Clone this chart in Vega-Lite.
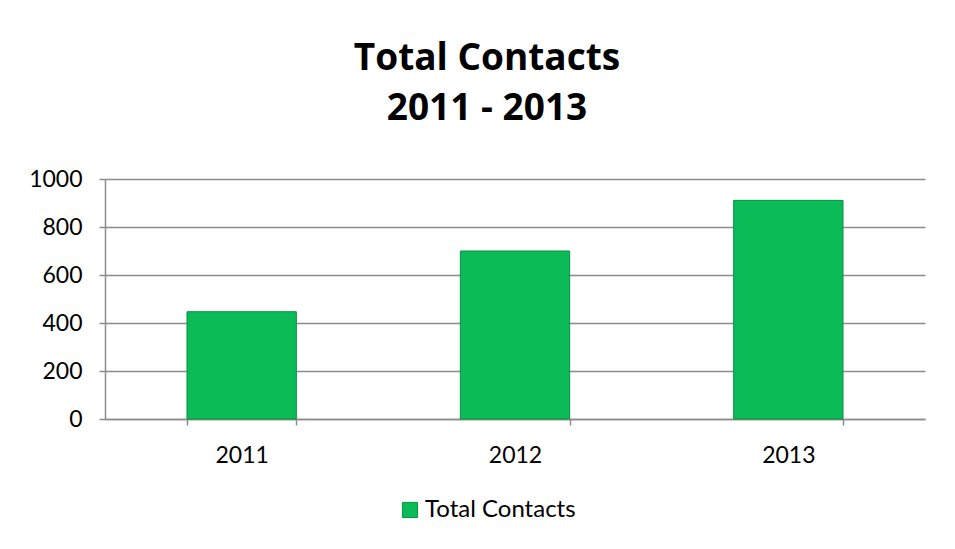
{
  "$schema": "https://vega.github.io/schema/vega-lite/v6.json",
  "autosize": {"type": "none"},
  "padding": {"left": 105, "top": 179, "right": 30, "bottom": 130},
  "width": 820,
  "height": 240,
  "background": "white",
  "title": {
    "text": ["Total Contacts", "2011 - 2013"],
    "font": "Open Sans",
    "fontSize": 37,
    "fontWeight": "bold",
    "lineHeight": 50,
    "color": "black",
    "anchor": "middle",
    "frame": "group",
    "dx": -28,
    "offset": 40
  },
  "data": {
    "values": [
      {"year": "2011", "series": "Total Contacts", "value": 447},
      {"year": "2012", "series": "Total Contacts", "value": 700},
      {"year": "2013", "series": "Total Contacts", "value": 911}
    ]
  },
  "mark": {"type": "bar", "stroke": "#07903f", "strokeWidth": 1},
  "encoding": {
    "x": {
      "field": "year",
      "type": "nominal",
      "title": null,
      "scale": {"paddingInner": 0.6, "paddingOuter": 0.3},
      "axis": {
        "labelAngle": 0,
        "labelFont": "Lato",
        "labelFontSize": 23,
        "labelColor": "black",
        "labelPadding": 19,
        "domainColor": "#8c8c8c",
        "domainWidth": 1.5,
        "tickColor": "#8c8c8c",
        "tickWidth": 1.5,
        "tickSize": 6,
        "tickBand": "extent",
        "grid": false
      }
    },
    "y": {
      "field": "value",
      "type": "quantitative",
      "title": null,
      "scale": {"domain": [0, 1000]},
      "axis": {
        "values": [0, 200, 400, 600, 800, 1000],
        "format": "d",
        "labelFont": "Lato",
        "labelFontSize": 23,
        "labelColor": "black",
        "labelPadding": 17,
        "domainColor": "#8c8c8c",
        "domainWidth": 1.5,
        "tickColor": "#8c8c8c",
        "tickWidth": 1.5,
        "tickSize": 6,
        "gridColor": "#8c8c8c",
        "gridWidth": 1.5
      }
    },
    "color": {
      "field": "series",
      "type": "nominal",
      "scale": {"domain": ["Total Contacts"], "range": ["#0abb58"]},
      "legend": {
        "title": null,
        "orient": "none",
        "legendX": 293,
        "legendY": 319,
        "direction": "horizontal",
        "symbolType": "square",
        "symbolSize": 230,
        "symbolStrokeColor": "#07903f",
        "symbolStrokeWidth": 1,
        "labelFont": "Lato",
        "labelFontSize": 24,
        "labelColor": "black",
        "labelOffset": 3
      }
    }
  },
  "config": {"view": {"stroke": null}}
}
